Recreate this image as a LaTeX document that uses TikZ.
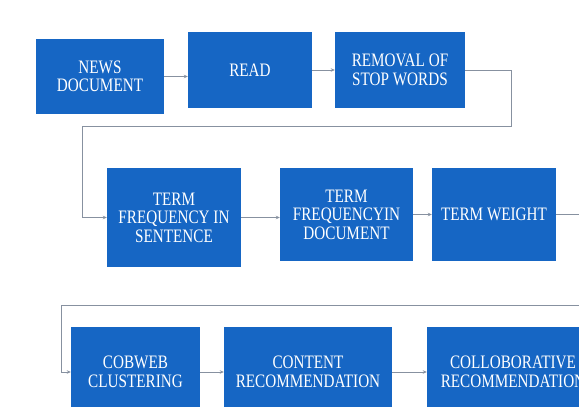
\documentclass[tikz,border=0pt]{standalone}
\usepackage{fontspec}
\newfontfamily\boxfont[FakeStretch=0.8]{Liberation Serif}
\usetikzlibrary{arrows.meta}

\definecolor{boxblue}{RGB}{22,102,196}
\definecolor{linegray}{RGB}{135,145,160}

\tikzset{
  stage/.style={fill=boxblue, text=white, align=center, inner sep=0pt,
    font=\boxfont\fontsize{19}{18.5}\selectfont},
  link/.style={draw=linegray, line width=0.8pt},
}

\begin{document}
\begin{tikzpicture}[x=1pt, y=-1pt, >={Stealth[length=4pt,width=3.5pt]}]
  \useasboundingbox (0,0) rectangle (579,407);
  \fill[white] (0,0) rectangle (579,407);
  \clip (0,0) rectangle (579,407);

  % Первая строка
  \node[stage, minimum width=128pt, minimum height=75pt] (news) at (100,76.5) {NEWS\\DOCUMENT};
  \node[stage, minimum width=124pt, minimum height=76pt] (read) at (250,70) {READ};
  \node[stage, minimum width=130pt, minimum height=76pt] (stop) at (400,70) {REMOVAL OF\\STOP WORDS};

  % Вторая строка
  \node[stage, minimum width=134pt, minimum height=99pt] (tfis) at (174,217.5) {TERM\\FREQUENCY IN\\SENTENCE};
  \node[stage, minimum width=133pt, minimum height=93pt] (tfid) at (346.5,214.5) {TERM\\FREQUENCYIN\\DOCUMENT};
  \node[stage, minimum width=124pt, minimum height=93pt] (tw) at (494,214.5) {TERM WEIGHT};

  % Третья строка
  \node[stage, minimum width=129pt, minimum height=90pt] (cob) at (135.5,372) {COBWEB\\CLUSTERING};
  \node[stage, minimum width=168pt, minimum height=90pt] (cont) at (308,372) {CONTENT\\RECOMMENDATION};
  \node[stage, minimum width=172pt, minimum height=90pt] (coll) at (513,372) {COLLOBORATIVE\\RECOMMENDATION};

  % Точки поворота
  \coordinate (turn1) at (511,126);
  \coordinate (turn2) at (82,126);
  \coordinate (exit2) at (579,214.5);
  \coordinate (enter3) at (579,305);
  \coordinate (turn3) at (61,305);

  % Связи
  \draw[link,->] (news.east) -- (news.east -| read.west);
  \draw[link,->] (read.east) -- (stop.west);
  \draw[link,->] (stop.east) -| (turn1) -- (turn2) |- (tfis.west);
  \draw[link,->] (tfis.east) -- (tfis.east -| tfid.west);
  \draw[link,->] (tfid.east) -- (tw.west);
  \draw[link] (tw.east) -- (exit2);
  \draw[link,->] (enter3) -- (turn3) |- (cob.west);
  \draw[link,->] (cob.east) -- (cont.west);
  \draw[link,->] (cont.east) -- (coll.west);
\end{tikzpicture}
\end{document}
